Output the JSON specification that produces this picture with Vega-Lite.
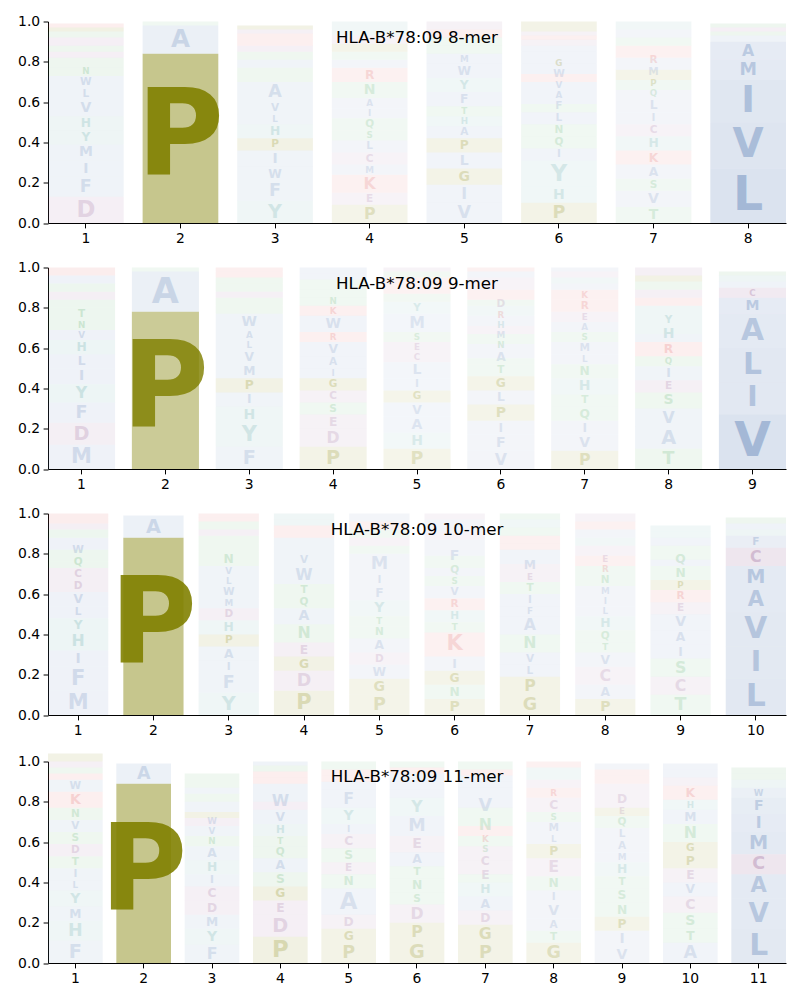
{
"$schema": "https://vega.github.io/schema/vega-lite/v6.json",
"padding": {"left": 17, "top": 14.5, "right": 15, "bottom": 5},
"spacing": 15,
"config": {
  "view": {"stroke": null},
  "font": "DejaVu Sans",
  "axis": {"domainColor": "#000", "tickColor": "#000", "labelColor": "#000", "labelFontSize": 13.9, "labelFont": "DejaVu Sans", "tickSize": 4.9, "labelPadding": 3.4, "grid": false, "title": null},
  "axisX": {"labelAngle": 0},
  "title": {"fontSize": 16.7, "fontWeight": "normal", "font": "DejaVu Sans", "color": "#000", "anchor": "middle", "frame": "group", "baseline": "top", "offset": -32}
},
"data": {"values": [
{"k":8,"p":1,"a":"D","f":0.13,"ic":0.8},{"k":8,"p":1,"a":"F","f":0.10,"ic":0.8},{"k":8,"p":1,"a":"I","f":0.08,"ic":0.8},{"k":8,"p":1,"a":"M","f":0.08,"ic":0.8},{"k":8,"p":1,"a":"Y","f":0.07,"ic":0.8},{"k":8,"p":1,"a":"H","f":0.07,"ic":0.8},{"k":8,"p":1,"a":"V","f":0.08,"ic":0.8},{"k":8,"p":1,"a":"L","f":0.06,"ic":0.8},{"k":8,"p":1,"a":"W","f":0.06,"ic":0.8},{"k":8,"p":1,"a":"T","f":0.04,"ic":0.8},{"k":8,"p":1,"a":"N","f":0.05,"ic":0.8},{"k":8,"p":1,"a":"E","f":0.03,"ic":0.8},{"k":8,"p":1,"a":"S","f":0.03,"ic":0.8},{"k":8,"p":1,"a":"C","f":0.04,"ic":0.8},{"k":8,"p":1,"a":"Q","f":0.03,"ic":0.8},{"k":8,"p":1,"a":"G","f":0.02,"ic":0.8},{"k":8,"p":1,"a":"K","f":0.02,"ic":0.8},
{"k":8,"p":2,"a":"P","f":0.84,"ic":3.3},{"k":8,"p":2,"a":"A","f":0.14,"ic":1.0},{"k":8,"p":2,"a":"S","f":0.02,"ic":0.7},
{"k":8,"p":3,"a":"Y","f":0.11,"ic":0.75},{"k":8,"p":3,"a":"F","f":0.10,"ic":0.75},{"k":8,"p":3,"a":"W","f":0.07,"ic":0.75},{"k":8,"p":3,"a":"I","f":0.08,"ic":0.75},{"k":8,"p":3,"a":"P","f":0.06,"ic":0.75},{"k":8,"p":3,"a":"H","f":0.07,"ic":0.75},{"k":8,"p":3,"a":"L","f":0.05,"ic":0.75},{"k":8,"p":3,"a":"V","f":0.06,"ic":0.75},{"k":8,"p":3,"a":"A","f":0.10,"ic":0.75},{"k":8,"p":3,"a":"T","f":0.03,"ic":0.75},{"k":8,"p":3,"a":"S","f":0.04,"ic":0.75},{"k":8,"p":3,"a":"M","f":0.04,"ic":0.75},{"k":8,"p":3,"a":"Q","f":0.04,"ic":0.75},{"k":8,"p":3,"a":"E","f":0.03,"ic":0.75},{"k":8,"p":3,"a":"K","f":0.03,"ic":0.75},{"k":8,"p":3,"a":"R","f":0.03,"ic":0.75},{"k":8,"p":3,"a":"C","f":0.02,"ic":0.75},{"k":8,"p":3,"a":"G","f":0.02,"ic":0.75},
{"k":8,"p":4,"a":"P","f":0.09,"ic":0.65},{"k":8,"p":4,"a":"E","f":0.06,"ic":0.65},{"k":8,"p":4,"a":"K","f":0.09,"ic":0.65},{"k":8,"p":4,"a":"M","f":0.05,"ic":0.65},{"k":8,"p":4,"a":"C","f":0.06,"ic":0.65},{"k":8,"p":4,"a":"L","f":0.06,"ic":0.65},{"k":8,"p":4,"a":"S","f":0.05,"ic":0.65},{"k":8,"p":4,"a":"Q","f":0.06,"ic":0.65},{"k":8,"p":4,"a":"I","f":0.05,"ic":0.65},{"k":8,"p":4,"a":"A","f":0.05,"ic":0.65},{"k":8,"p":4,"a":"N","f":0.08,"ic":0.65},{"k":8,"p":4,"a":"R","f":0.07,"ic":0.65},{"k":8,"p":4,"a":"W","f":0.04,"ic":0.65},{"k":8,"p":4,"a":"T","f":0.04,"ic":0.65},{"k":8,"p":4,"a":"G","f":0.04,"ic":0.65},{"k":8,"p":4,"a":"D","f":0.04,"ic":0.65},{"k":8,"p":4,"a":"Y","f":0.03,"ic":0.65},{"k":8,"p":4,"a":"H","f":0.04,"ic":0.65},
{"k":8,"p":5,"a":"V","f":0.10,"ic":0.7},{"k":8,"p":5,"a":"I","f":0.09,"ic":0.7},{"k":8,"p":5,"a":"G","f":0.08,"ic":0.7},{"k":8,"p":5,"a":"L","f":0.08,"ic":0.7},{"k":8,"p":5,"a":"P","f":0.07,"ic":0.7},{"k":8,"p":5,"a":"A","f":0.06,"ic":0.7},{"k":8,"p":5,"a":"H","f":0.05,"ic":0.7},{"k":8,"p":5,"a":"T","f":0.05,"ic":0.7},{"k":8,"p":5,"a":"F","f":0.07,"ic":0.7},{"k":8,"p":5,"a":"Y","f":0.07,"ic":0.7},{"k":8,"p":5,"a":"W","f":0.07,"ic":0.7},{"k":8,"p":5,"a":"M","f":0.05,"ic":0.7},{"k":8,"p":5,"a":"S","f":0.04,"ic":0.7},{"k":8,"p":5,"a":"Q","f":0.04,"ic":0.7},{"k":8,"p":5,"a":"K","f":0.04,"ic":0.7},{"k":8,"p":5,"a":"E","f":0.04,"ic":0.7},
{"k":8,"p":6,"a":"P","f":0.10,"ic":0.7},{"k":8,"p":6,"a":"H","f":0.08,"ic":0.7},{"k":8,"p":6,"a":"Y","f":0.13,"ic":0.7},{"k":8,"p":6,"a":"I","f":0.06,"ic":0.7},{"k":8,"p":6,"a":"Q","f":0.06,"ic":0.7},{"k":8,"p":6,"a":"N","f":0.06,"ic":0.7},{"k":8,"p":6,"a":"L","f":0.06,"ic":0.7},{"k":8,"p":6,"a":"S","f":0.04,"ic":0.7},{"k":8,"p":6,"a":"F","f":0.06,"ic":0.7},{"k":8,"p":6,"a":"A","f":0.05,"ic":0.7},{"k":8,"p":6,"a":"R","f":0.04,"ic":0.7},{"k":8,"p":6,"a":"V","f":0.05,"ic":0.7},{"k":8,"p":6,"a":"W","f":0.06,"ic":0.7},{"k":8,"p":6,"a":"M","f":0.03,"ic":0.7},{"k":8,"p":6,"a":"E","f":0.03,"ic":0.7},{"k":8,"p":6,"a":"K","f":0.02,"ic":0.7},{"k":8,"p":6,"a":"D","f":0.02,"ic":0.7},{"k":8,"p":6,"a":"G","f":0.05,"ic":0.7},
{"k":8,"p":7,"a":"T","f":0.08,"ic":0.65},{"k":8,"p":7,"a":"V","f":0.08,"ic":0.65},{"k":8,"p":7,"a":"S","f":0.06,"ic":0.65},{"k":8,"p":7,"a":"A","f":0.07,"ic":0.65},{"k":8,"p":7,"a":"K","f":0.07,"ic":0.65},{"k":8,"p":7,"a":"H","f":0.07,"ic":0.65},{"k":8,"p":7,"a":"C","f":0.06,"ic":0.65},{"k":8,"p":7,"a":"I","f":0.06,"ic":0.65},{"k":8,"p":7,"a":"L","f":0.07,"ic":0.65},{"k":8,"p":7,"a":"F","f":0.04,"ic":0.65},{"k":8,"p":7,"a":"Q","f":0.05,"ic":0.65},{"k":8,"p":7,"a":"P","f":0.05,"ic":0.65},{"k":8,"p":7,"a":"M","f":0.06,"ic":0.65},{"k":8,"p":7,"a":"R","f":0.06,"ic":0.65},{"k":8,"p":7,"a":"N","f":0.04,"ic":0.65},{"k":8,"p":7,"a":"W","f":0.04,"ic":0.65},{"k":8,"p":7,"a":"Y","f":0.04,"ic":0.65},
{"k":8,"p":8,"a":"L","f":0.27,"ic":1.85},{"k":8,"p":8,"a":"V","f":0.23,"ic":1.7},{"k":8,"p":8,"a":"I","f":0.21,"ic":1.6},{"k":8,"p":8,"a":"M","f":0.10,"ic":1.4},{"k":8,"p":8,"a":"A","f":0.09,"ic":1.3},{"k":8,"p":8,"a":"F","f":0.03,"ic":0.8},{"k":8,"p":8,"a":"T","f":0.02,"ic":0.8},{"k":8,"p":8,"a":"C","f":0.02,"ic":0.8},{"k":8,"p":8,"a":"S","f":0.02,"ic":0.8},

{"k":9,"p":1,"a":"M","f":0.12,"ic":0.85},{"k":9,"p":1,"a":"D","f":0.11,"ic":0.85},{"k":9,"p":1,"a":"F","f":0.10,"ic":0.85},{"k":9,"p":1,"a":"Y","f":0.09,"ic":0.85},{"k":9,"p":1,"a":"I","f":0.08,"ic":0.85},{"k":9,"p":1,"a":"L","f":0.07,"ic":0.85},{"k":9,"p":1,"a":"H","f":0.07,"ic":0.85},{"k":9,"p":1,"a":"V","f":0.05,"ic":0.85},{"k":9,"p":1,"a":"N","f":0.05,"ic":0.85},{"k":9,"p":1,"a":"T","f":0.06,"ic":0.85},{"k":9,"p":1,"a":"S","f":0.04,"ic":0.85},{"k":9,"p":1,"a":"E","f":0.04,"ic":0.85},{"k":9,"p":1,"a":"Q","f":0.04,"ic":0.85},{"k":9,"p":1,"a":"W","f":0.04,"ic":0.85},{"k":9,"p":1,"a":"K","f":0.04,"ic":0.85},
{"k":9,"p":2,"a":"P","f":0.78,"ic":3.0},{"k":9,"p":2,"a":"A","f":0.20,"ic":1.0},{"k":9,"p":2,"a":"S","f":0.02,"ic":0.7},
{"k":9,"p":3,"a":"F","f":0.11,"ic":0.75},{"k":9,"p":3,"a":"Y","f":0.12,"ic":0.75},{"k":9,"p":3,"a":"H","f":0.08,"ic":0.75},{"k":9,"p":3,"a":"I","f":0.07,"ic":0.75},{"k":9,"p":3,"a":"P","f":0.07,"ic":0.75},{"k":9,"p":3,"a":"M","f":0.07,"ic":0.75},{"k":9,"p":3,"a":"V","f":0.07,"ic":0.75},{"k":9,"p":3,"a":"L","f":0.05,"ic":0.75},{"k":9,"p":3,"a":"A","f":0.05,"ic":0.75},{"k":9,"p":3,"a":"W","f":0.08,"ic":0.75},{"k":9,"p":3,"a":"T","f":0.04,"ic":0.75},{"k":9,"p":3,"a":"S","f":0.04,"ic":0.75},{"k":9,"p":3,"a":"E","f":0.03,"ic":0.75},{"k":9,"p":3,"a":"Q","f":0.04,"ic":0.75},{"k":9,"p":3,"a":"N","f":0.03,"ic":0.75},{"k":9,"p":3,"a":"R","f":0.03,"ic":0.75},{"k":9,"p":3,"a":"K","f":0.02,"ic":0.75},
{"k":9,"p":4,"a":"P","f":0.11,"ic":0.7},{"k":9,"p":4,"a":"D","f":0.09,"ic":0.7},{"k":9,"p":4,"a":"E","f":0.07,"ic":0.7},{"k":9,"p":4,"a":"S","f":0.06,"ic":0.7},{"k":9,"p":4,"a":"C","f":0.06,"ic":0.7},{"k":9,"p":4,"a":"G","f":0.06,"ic":0.7},{"k":9,"p":4,"a":"I","f":0.05,"ic":0.7},{"k":9,"p":4,"a":"A","f":0.06,"ic":0.7},{"k":9,"p":4,"a":"V","f":0.07,"ic":0.7},{"k":9,"p":4,"a":"R","f":0.05,"ic":0.7},{"k":9,"p":4,"a":"W","f":0.08,"ic":0.7},{"k":9,"p":4,"a":"K","f":0.05,"ic":0.7},{"k":9,"p":4,"a":"T","f":0.04,"ic":0.7},{"k":9,"p":4,"a":"Q","f":0.04,"ic":0.7},{"k":9,"p":4,"a":"N","f":0.05,"ic":0.7},{"k":9,"p":4,"a":"L","f":0.03,"ic":0.7},{"k":9,"p":4,"a":"M","f":0.03,"ic":0.7},
{"k":9,"p":5,"a":"P","f":0.10,"ic":0.6},{"k":9,"p":5,"a":"H","f":0.08,"ic":0.6},{"k":9,"p":5,"a":"A","f":0.08,"ic":0.6},{"k":9,"p":5,"a":"V","f":0.07,"ic":0.6},{"k":9,"p":5,"a":"G","f":0.06,"ic":0.6},{"k":9,"p":5,"a":"I","f":0.06,"ic":0.6},{"k":9,"p":5,"a":"L","f":0.08,"ic":0.6},{"k":9,"p":5,"a":"C","f":0.05,"ic":0.6},{"k":9,"p":5,"a":"E","f":0.05,"ic":0.6},{"k":9,"p":5,"a":"S","f":0.05,"ic":0.6},{"k":9,"p":5,"a":"M","f":0.09,"ic":0.6},{"k":9,"p":5,"a":"Y","f":0.06,"ic":0.6},{"k":9,"p":5,"a":"T","f":0.04,"ic":0.6},{"k":9,"p":5,"a":"K","f":0.04,"ic":0.6},{"k":9,"p":5,"a":"R","f":0.04,"ic":0.6},{"k":9,"p":5,"a":"N","f":0.03,"ic":0.6},{"k":9,"p":5,"a":"D","f":0.02,"ic":0.6},
{"k":9,"p":6,"a":"V","f":0.09,"ic":0.65},{"k":9,"p":6,"a":"F","f":0.08,"ic":0.65},{"k":9,"p":6,"a":"I","f":0.07,"ic":0.65},{"k":9,"p":6,"a":"P","f":0.08,"ic":0.65},{"k":9,"p":6,"a":"L","f":0.07,"ic":0.65},{"k":9,"p":6,"a":"G","f":0.07,"ic":0.65},{"k":9,"p":6,"a":"T","f":0.06,"ic":0.65},{"k":9,"p":6,"a":"S","f":0.03,"ic":0.65},{"k":9,"p":6,"a":"A","f":0.07,"ic":0.65},{"k":9,"p":6,"a":"N","f":0.05,"ic":0.65},{"k":9,"p":6,"a":"E","f":0.04,"ic":0.65},{"k":9,"p":6,"a":"M","f":0.05,"ic":0.65},{"k":9,"p":6,"a":"H","f":0.05,"ic":0.65},{"k":9,"p":6,"a":"Q","f":0.03,"ic":0.65},{"k":9,"p":6,"a":"R","f":0.05,"ic":0.65},{"k":9,"p":6,"a":"D","f":0.06,"ic":0.65},{"k":9,"p":6,"a":"W","f":0.03,"ic":0.65},{"k":9,"p":6,"a":"K","f":0.02,"ic":0.65},
{"k":9,"p":7,"a":"P","f":0.09,"ic":0.65},{"k":9,"p":7,"a":"V","f":0.08,"ic":0.65},{"k":9,"p":7,"a":"I","f":0.07,"ic":0.65},{"k":9,"p":7,"a":"Q","f":0.07,"ic":0.65},{"k":9,"p":7,"a":"T","f":0.06,"ic":0.65},{"k":9,"p":7,"a":"H","f":0.08,"ic":0.65},{"k":9,"p":7,"a":"N","f":0.07,"ic":0.65},{"k":9,"p":7,"a":"L","f":0.05,"ic":0.65},{"k":9,"p":7,"a":"M","f":0.06,"ic":0.65},{"k":9,"p":7,"a":"S","f":0.05,"ic":0.65},{"k":9,"p":7,"a":"A","f":0.05,"ic":0.65},{"k":9,"p":7,"a":"E","f":0.05,"ic":0.65},{"k":9,"p":7,"a":"R","f":0.06,"ic":0.65},{"k":9,"p":7,"a":"K","f":0.05,"ic":0.65},{"k":9,"p":7,"a":"W","f":0.03,"ic":0.65},{"k":9,"p":7,"a":"Y","f":0.03,"ic":0.65},{"k":9,"p":7,"a":"D","f":0.03,"ic":0.65},{"k":9,"p":7,"a":"F","f":0.02,"ic":0.65},
{"k":9,"p":8,"a":"T","f":0.10,"ic":0.75},{"k":9,"p":8,"a":"A","f":0.11,"ic":0.75},{"k":9,"p":8,"a":"V","f":0.09,"ic":0.75},{"k":9,"p":8,"a":"S","f":0.08,"ic":0.75},{"k":9,"p":8,"a":"E","f":0.06,"ic":0.75},{"k":9,"p":8,"a":"I","f":0.07,"ic":0.75},{"k":9,"p":8,"a":"Q","f":0.05,"ic":0.75},{"k":9,"p":8,"a":"R","f":0.07,"ic":0.75},{"k":9,"p":8,"a":"F","f":0.04,"ic":0.75},{"k":9,"p":8,"a":"H","f":0.08,"ic":0.75},{"k":9,"p":8,"a":"Y","f":0.06,"ic":0.75},{"k":9,"p":8,"a":"K","f":0.04,"ic":0.75},{"k":9,"p":8,"a":"D","f":0.04,"ic":0.75},{"k":9,"p":8,"a":"N","f":0.04,"ic":0.75},{"k":9,"p":8,"a":"G","f":0.03,"ic":0.75},{"k":9,"p":8,"a":"C","f":0.04,"ic":0.75},
{"k":9,"p":9,"a":"V","f":0.27,"ic":1.85},{"k":9,"p":9,"a":"I","f":0.16,"ic":1.5},{"k":9,"p":9,"a":"L","f":0.17,"ic":1.5},{"k":9,"p":9,"a":"A","f":0.17,"ic":1.4},{"k":9,"p":9,"a":"M","f":0.08,"ic":1.3},{"k":9,"p":9,"a":"C","f":0.05,"ic":1.1},{"k":9,"p":9,"a":"F","f":0.03,"ic":0.8},{"k":9,"p":9,"a":"Y","f":0.03,"ic":0.8},{"k":9,"p":9,"a":"T","f":0.02,"ic":0.8},

{"k":10,"p":1,"a":"M","f":0.12,"ic":0.85},{"k":10,"p":1,"a":"F","f":0.12,"ic":0.85},{"k":10,"p":1,"a":"I","f":0.08,"ic":0.85},{"k":10,"p":1,"a":"H","f":0.09,"ic":0.85},{"k":10,"p":1,"a":"Y","f":0.07,"ic":0.85},{"k":10,"p":1,"a":"L","f":0.06,"ic":0.85},{"k":10,"p":1,"a":"V","f":0.07,"ic":0.85},{"k":10,"p":1,"a":"D","f":0.06,"ic":0.85},{"k":10,"p":1,"a":"C","f":0.06,"ic":0.85},{"k":10,"p":1,"a":"T","f":0.03,"ic":0.85},{"k":10,"p":1,"a":"Q","f":0.06,"ic":0.85},{"k":10,"p":1,"a":"W","f":0.06,"ic":0.85},{"k":10,"p":1,"a":"S","f":0.04,"ic":0.85},{"k":10,"p":1,"a":"E","f":0.03,"ic":0.85},{"k":10,"p":1,"a":"K","f":0.03,"ic":0.85},{"k":10,"p":1,"a":"R","f":0.02,"ic":0.85},
{"k":10,"p":2,"a":"P","f":0.88,"ic":3.3},{"k":10,"p":2,"a":"A","f":0.11,"ic":0.95},
{"k":10,"p":3,"a":"Y","f":0.11,"ic":0.75},{"k":10,"p":3,"a":"F","f":0.10,"ic":0.75},{"k":10,"p":3,"a":"I","f":0.06,"ic":0.75},{"k":10,"p":3,"a":"A","f":0.07,"ic":0.75},{"k":10,"p":3,"a":"P","f":0.06,"ic":0.75},{"k":10,"p":3,"a":"H","f":0.07,"ic":0.75},{"k":10,"p":3,"a":"D","f":0.06,"ic":0.75},{"k":10,"p":3,"a":"M","f":0.05,"ic":0.75},{"k":10,"p":3,"a":"W","f":0.06,"ic":0.75},{"k":10,"p":3,"a":"L","f":0.05,"ic":0.75},{"k":10,"p":3,"a":"V","f":0.05,"ic":0.75},{"k":10,"p":3,"a":"N","f":0.07,"ic":0.75},{"k":10,"p":3,"a":"S","f":0.04,"ic":0.75},{"k":10,"p":3,"a":"Q","f":0.04,"ic":0.75},{"k":10,"p":3,"a":"E","f":0.03,"ic":0.75},{"k":10,"p":3,"a":"T","f":0.04,"ic":0.75},{"k":10,"p":3,"a":"R","f":0.02,"ic":0.75},{"k":10,"p":3,"a":"K","f":0.02,"ic":0.75},
{"k":10,"p":4,"a":"P","f":0.12,"ic":0.75},{"k":10,"p":4,"a":"D","f":0.10,"ic":0.75},{"k":10,"p":4,"a":"G","f":0.07,"ic":0.75},{"k":10,"p":4,"a":"E","f":0.07,"ic":0.75},{"k":10,"p":4,"a":"N","f":0.09,"ic":0.75},{"k":10,"p":4,"a":"A","f":0.08,"ic":0.75},{"k":10,"p":4,"a":"Q","f":0.06,"ic":0.75},{"k":10,"p":4,"a":"T","f":0.06,"ic":0.75},{"k":10,"p":4,"a":"W","f":0.09,"ic":0.75},{"k":10,"p":4,"a":"V","f":0.06,"ic":0.75},{"k":10,"p":4,"a":"I","f":0.04,"ic":0.75},{"k":10,"p":4,"a":"L","f":0.04,"ic":0.75},{"k":10,"p":4,"a":"K","f":0.03,"ic":0.75},{"k":10,"p":4,"a":"R","f":0.03,"ic":0.75},{"k":10,"p":4,"a":"H","f":0.03,"ic":0.75},{"k":10,"p":4,"a":"Y","f":0.03,"ic":0.75},
{"k":10,"p":5,"a":"P","f":0.10,"ic":0.65},{"k":10,"p":5,"a":"G","f":0.08,"ic":0.65},{"k":10,"p":5,"a":"W","f":0.07,"ic":0.65},{"k":10,"p":5,"a":"D","f":0.06,"ic":0.65},{"k":10,"p":5,"a":"A","f":0.07,"ic":0.65},{"k":10,"p":5,"a":"N","f":0.06,"ic":0.65},{"k":10,"p":5,"a":"T","f":0.05,"ic":0.65},{"k":10,"p":5,"a":"Y","f":0.08,"ic":0.65},{"k":10,"p":5,"a":"F","f":0.07,"ic":0.65},{"k":10,"p":5,"a":"I","f":0.06,"ic":0.65},{"k":10,"p":5,"a":"M","f":0.10,"ic":0.65},{"k":10,"p":5,"a":"S","f":0.04,"ic":0.65},{"k":10,"p":5,"a":"E","f":0.04,"ic":0.65},{"k":10,"p":5,"a":"Q","f":0.04,"ic":0.65},{"k":10,"p":5,"a":"K","f":0.04,"ic":0.65},{"k":10,"p":5,"a":"L","f":0.04,"ic":0.65},
{"k":10,"p":6,"a":"P","f":0.08,"ic":0.65},{"k":10,"p":6,"a":"N","f":0.07,"ic":0.65},{"k":10,"p":6,"a":"G","f":0.07,"ic":0.65},{"k":10,"p":6,"a":"I","f":0.07,"ic":0.65},{"k":10,"p":6,"a":"K","f":0.12,"ic":0.65},{"k":10,"p":6,"a":"T","f":0.05,"ic":0.65},{"k":10,"p":6,"a":"H","f":0.06,"ic":0.65},{"k":10,"p":6,"a":"R","f":0.06,"ic":0.65},{"k":10,"p":6,"a":"V","f":0.06,"ic":0.65},{"k":10,"p":6,"a":"S","f":0.05,"ic":0.65},{"k":10,"p":6,"a":"A","f":0.04,"ic":0.65},{"k":10,"p":6,"a":"Q","f":0.06,"ic":0.65},{"k":10,"p":6,"a":"F","f":0.08,"ic":0.65},{"k":10,"p":6,"a":"E","f":0.04,"ic":0.65},{"k":10,"p":6,"a":"L","f":0.03,"ic":0.65},{"k":10,"p":6,"a":"M","f":0.03,"ic":0.65},{"k":10,"p":6,"a":"D","f":0.03,"ic":0.65},
{"k":10,"p":7,"a":"G","f":0.10,"ic":0.7},{"k":10,"p":7,"a":"P","f":0.09,"ic":0.7},{"k":10,"p":7,"a":"L","f":0.06,"ic":0.7},{"k":10,"p":7,"a":"V","f":0.06,"ic":0.7},{"k":10,"p":7,"a":"N","f":0.09,"ic":0.7},{"k":10,"p":7,"a":"A","f":0.09,"ic":0.7},{"k":10,"p":7,"a":"F","f":0.05,"ic":0.7},{"k":10,"p":7,"a":"I","f":0.06,"ic":0.7},{"k":10,"p":7,"a":"T","f":0.06,"ic":0.7},{"k":10,"p":7,"a":"E","f":0.05,"ic":0.7},{"k":10,"p":7,"a":"D","f":0.04,"ic":0.7},{"k":10,"p":7,"a":"M","f":0.07,"ic":0.7},{"k":10,"p":7,"a":"K","f":0.03,"ic":0.7},{"k":10,"p":7,"a":"R","f":0.04,"ic":0.7},{"k":10,"p":7,"a":"S","f":0.04,"ic":0.7},{"k":10,"p":7,"a":"Y","f":0.04,"ic":0.7},{"k":10,"p":7,"a":"Q","f":0.03,"ic":0.7},
{"k":10,"p":8,"a":"P","f":0.08,"ic":0.65},{"k":10,"p":8,"a":"A","f":0.07,"ic":0.65},{"k":10,"p":8,"a":"C","f":0.09,"ic":0.65},{"k":10,"p":8,"a":"V","f":0.07,"ic":0.65},{"k":10,"p":8,"a":"T","f":0.05,"ic":0.65},{"k":10,"p":8,"a":"Q","f":0.06,"ic":0.65},{"k":10,"p":8,"a":"H","f":0.07,"ic":0.65},{"k":10,"p":8,"a":"L","f":0.05,"ic":0.65},{"k":10,"p":8,"a":"I","f":0.05,"ic":0.65},{"k":10,"p":8,"a":"M","f":0.05,"ic":0.65},{"k":10,"p":8,"a":"S","f":0.04,"ic":0.65},{"k":10,"p":8,"a":"N","f":0.06,"ic":0.65},{"k":10,"p":8,"a":"R","f":0.05,"ic":0.65},{"k":10,"p":8,"a":"E","f":0.05,"ic":0.65},{"k":10,"p":8,"a":"Y","f":0.04,"ic":0.65},{"k":10,"p":8,"a":"W","f":0.04,"ic":0.65},{"k":10,"p":8,"a":"K","f":0.04,"ic":0.65},{"k":10,"p":8,"a":"D","f":0.04,"ic":0.65},
{"k":10,"p":9,"a":"T","f":0.10,"ic":0.7},{"k":10,"p":9,"a":"C","f":0.09,"ic":0.7},{"k":10,"p":9,"a":"S","f":0.09,"ic":0.7},{"k":10,"p":9,"a":"I","f":0.07,"ic":0.7},{"k":10,"p":9,"a":"A","f":0.07,"ic":0.7},{"k":10,"p":9,"a":"V","f":0.08,"ic":0.7},{"k":10,"p":9,"a":"E","f":0.06,"ic":0.7},{"k":10,"p":9,"a":"R","f":0.06,"ic":0.7},{"k":10,"p":9,"a":"P","f":0.05,"ic":0.7},{"k":10,"p":9,"a":"N","f":0.07,"ic":0.7},{"k":10,"p":9,"a":"L","f":0.03,"ic":0.7},{"k":10,"p":9,"a":"Q","f":0.07,"ic":0.7},{"k":10,"p":9,"a":"M","f":0.04,"ic":0.7},{"k":10,"p":9,"a":"Y","f":0.03,"ic":0.7},{"k":10,"p":9,"a":"H","f":0.03,"ic":0.7},
{"k":10,"p":10,"a":"L","f":0.18,"ic":1.5},{"k":10,"p":10,"a":"I","f":0.16,"ic":1.45},{"k":10,"p":10,"a":"V","f":0.17,"ic":1.45},{"k":10,"p":10,"a":"A","f":0.12,"ic":1.4},{"k":10,"p":10,"a":"M","f":0.11,"ic":1.4},{"k":10,"p":10,"a":"C","f":0.09,"ic":1.3},{"k":10,"p":10,"a":"F","f":0.06,"ic":1.1},{"k":10,"p":10,"a":"Y","f":0.03,"ic":0.8},{"k":10,"p":10,"a":"W","f":0.03,"ic":0.8},{"k":10,"p":10,"a":"T","f":0.03,"ic":0.8},

{"k":11,"p":1,"a":"F","f":0.11,"ic":0.75},{"k":11,"p":1,"a":"H","f":0.10,"ic":0.75},{"k":11,"p":1,"a":"M","f":0.07,"ic":0.75},{"k":11,"p":1,"a":"Y","f":0.08,"ic":0.75},{"k":11,"p":1,"a":"L","f":0.05,"ic":0.75},{"k":11,"p":1,"a":"I","f":0.06,"ic":0.75},{"k":11,"p":1,"a":"T","f":0.06,"ic":0.75},{"k":11,"p":1,"a":"D","f":0.06,"ic":0.75},{"k":11,"p":1,"a":"S","f":0.06,"ic":0.75},{"k":11,"p":1,"a":"V","f":0.06,"ic":0.75},{"k":11,"p":1,"a":"N","f":0.06,"ic":0.75},{"k":11,"p":1,"a":"K","f":0.08,"ic":0.75},{"k":11,"p":1,"a":"W","f":0.06,"ic":0.75},{"k":11,"p":1,"a":"R","f":0.03,"ic":0.75},{"k":11,"p":1,"a":"Q","f":0.03,"ic":0.75},{"k":11,"p":1,"a":"C","f":0.03,"ic":0.75},{"k":11,"p":1,"a":"G","f":0.04,"ic":0.75},
{"k":11,"p":2,"a":"P","f":0.89,"ic":3.3},{"k":11,"p":2,"a":"A","f":0.10,"ic":0.95},
{"k":11,"p":3,"a":"F","f":0.09,"ic":0.75},{"k":11,"p":3,"a":"Y","f":0.08,"ic":0.75},{"k":11,"p":3,"a":"M","f":0.07,"ic":0.75},{"k":11,"p":3,"a":"D","f":0.07,"ic":0.75},{"k":11,"p":3,"a":"C","f":0.07,"ic":0.75},{"k":11,"p":3,"a":"I","f":0.06,"ic":0.75},{"k":11,"p":3,"a":"H","f":0.07,"ic":0.75},{"k":11,"p":3,"a":"A","f":0.07,"ic":0.75},{"k":11,"p":3,"a":"N","f":0.05,"ic":0.75},{"k":11,"p":3,"a":"V","f":0.05,"ic":0.75},{"k":11,"p":3,"a":"E","f":0.04,"ic":0.75},{"k":11,"p":3,"a":"P","f":0.03,"ic":0.75},{"k":11,"p":3,"a":"W","f":0.05,"ic":0.75},{"k":11,"p":3,"a":"S","f":0.04,"ic":0.75},{"k":11,"p":3,"a":"L","f":0.03,"ic":0.75},{"k":11,"p":3,"a":"Q","f":0.04,"ic":0.75},{"k":11,"p":3,"a":"T","f":0.03,"ic":0.75},
{"k":11,"p":4,"a":"P","f":0.13,"ic":0.8},{"k":11,"p":4,"a":"D","f":0.11,"ic":0.8},{"k":11,"p":4,"a":"E","f":0.07,"ic":0.8},{"k":11,"p":4,"a":"G","f":0.07,"ic":0.8},{"k":11,"p":4,"a":"S","f":0.07,"ic":0.8},{"k":11,"p":4,"a":"A","f":0.07,"ic":0.8},{"k":11,"p":4,"a":"Q","f":0.06,"ic":0.8},{"k":11,"p":4,"a":"T","f":0.05,"ic":0.8},{"k":11,"p":4,"a":"H","f":0.06,"ic":0.8},{"k":11,"p":4,"a":"V","f":0.07,"ic":0.8},{"k":11,"p":4,"a":"C","f":0.04,"ic":0.8},{"k":11,"p":4,"a":"W","f":0.09,"ic":0.8},{"k":11,"p":4,"a":"K","f":0.03,"ic":0.8},{"k":11,"p":4,"a":"R","f":0.03,"ic":0.8},{"k":11,"p":4,"a":"N","f":0.03,"ic":0.8},{"k":11,"p":4,"a":"F","f":0.02,"ic":0.8},
{"k":11,"p":5,"a":"P","f":0.10,"ic":0.7},{"k":11,"p":5,"a":"G","f":0.07,"ic":0.7},{"k":11,"p":5,"a":"D","f":0.07,"ic":0.7},{"k":11,"p":5,"a":"A","f":0.13,"ic":0.7},{"k":11,"p":5,"a":"N","f":0.07,"ic":0.7},{"k":11,"p":5,"a":"E","f":0.06,"ic":0.7},{"k":11,"p":5,"a":"S","f":0.07,"ic":0.7},{"k":11,"p":5,"a":"C","f":0.07,"ic":0.7},{"k":11,"p":5,"a":"I","f":0.05,"ic":0.7},{"k":11,"p":5,"a":"Y","f":0.08,"ic":0.7},{"k":11,"p":5,"a":"F","f":0.09,"ic":0.7},{"k":11,"p":5,"a":"V","f":0.04,"ic":0.7},{"k":11,"p":5,"a":"K","f":0.03,"ic":0.7},{"k":11,"p":5,"a":"R","f":0.03,"ic":0.7},{"k":11,"p":5,"a":"Q","f":0.04,"ic":0.7},
{"k":11,"p":6,"a":"G","f":0.11,"ic":0.7},{"k":11,"p":6,"a":"P","f":0.09,"ic":0.7},{"k":11,"p":6,"a":"D","f":0.09,"ic":0.7},{"k":11,"p":6,"a":"S","f":0.06,"ic":0.7},{"k":11,"p":6,"a":"N","f":0.07,"ic":0.7},{"k":11,"p":6,"a":"T","f":0.06,"ic":0.7},{"k":11,"p":6,"a":"A","f":0.07,"ic":0.7},{"k":11,"p":6,"a":"E","f":0.08,"ic":0.7},{"k":11,"p":6,"a":"M","f":0.10,"ic":0.7},{"k":11,"p":6,"a":"Y","f":0.09,"ic":0.7},{"k":11,"p":6,"a":"V","f":0.04,"ic":0.7},{"k":11,"p":6,"a":"I","f":0.04,"ic":0.7},{"k":11,"p":6,"a":"L","f":0.04,"ic":0.7},{"k":11,"p":6,"a":"R","f":0.03,"ic":0.7},{"k":11,"p":6,"a":"Q","f":0.03,"ic":0.7},
{"k":11,"p":7,"a":"P","f":0.10,"ic":0.7},{"k":11,"p":7,"a":"G","f":0.09,"ic":0.7},{"k":11,"p":7,"a":"D","f":0.07,"ic":0.7},{"k":11,"p":7,"a":"A","f":0.07,"ic":0.7},{"k":11,"p":7,"a":"H","f":0.07,"ic":0.7},{"k":11,"p":7,"a":"T","f":0.04,"ic":0.7},{"k":11,"p":7,"a":"E","f":0.07,"ic":0.7},{"k":11,"p":7,"a":"C","f":0.07,"ic":0.7},{"k":11,"p":7,"a":"S","f":0.05,"ic":0.7},{"k":11,"p":7,"a":"K","f":0.05,"ic":0.7},{"k":11,"p":7,"a":"N","f":0.09,"ic":0.7},{"k":11,"p":7,"a":"V","f":0.10,"ic":0.7},{"k":11,"p":7,"a":"I","f":0.03,"ic":0.7},{"k":11,"p":7,"a":"L","f":0.03,"ic":0.7},{"k":11,"p":7,"a":"R","f":0.03,"ic":0.7},{"k":11,"p":7,"a":"Q","f":0.04,"ic":0.7},
{"k":11,"p":8,"a":"G","f":0.10,"ic":0.65},{"k":11,"p":8,"a":"T","f":0.06,"ic":0.65},{"k":11,"p":8,"a":"A","f":0.06,"ic":0.65},{"k":11,"p":8,"a":"V","f":0.08,"ic":0.65},{"k":11,"p":8,"a":"I","f":0.06,"ic":0.65},{"k":11,"p":8,"a":"N","f":0.07,"ic":0.65},{"k":11,"p":8,"a":"E","f":0.09,"ic":0.65},{"k":11,"p":8,"a":"P","f":0.07,"ic":0.65},{"k":11,"p":8,"a":"L","f":0.05,"ic":0.65},{"k":11,"p":8,"a":"M","f":0.06,"ic":0.65},{"k":11,"p":8,"a":"S","f":0.05,"ic":0.65},{"k":11,"p":8,"a":"C","f":0.07,"ic":0.65},{"k":11,"p":8,"a":"R","f":0.05,"ic":0.65},{"k":11,"p":8,"a":"D","f":0.04,"ic":0.65},{"k":11,"p":8,"a":"H","f":0.03,"ic":0.65},{"k":11,"p":8,"a":"Y","f":0.03,"ic":0.65},{"k":11,"p":8,"a":"K","f":0.03,"ic":0.65},
{"k":11,"p":9,"a":"V","f":0.08,"ic":0.65},{"k":11,"p":9,"a":"I","f":0.08,"ic":0.65},{"k":11,"p":9,"a":"P","f":0.07,"ic":0.65},{"k":11,"p":9,"a":"N","f":0.07,"ic":0.65},{"k":11,"p":9,"a":"S","f":0.07,"ic":0.65},{"k":11,"p":9,"a":"T","f":0.06,"ic":0.65},{"k":11,"p":9,"a":"H","f":0.07,"ic":0.65},{"k":11,"p":9,"a":"M","f":0.05,"ic":0.65},{"k":11,"p":9,"a":"A","f":0.06,"ic":0.65},{"k":11,"p":9,"a":"L","f":0.06,"ic":0.65},{"k":11,"p":9,"a":"Q","f":0.06,"ic":0.65},{"k":11,"p":9,"a":"G","f":0.04,"ic":0.65},{"k":11,"p":9,"a":"E","f":0.05,"ic":0.65},{"k":11,"p":9,"a":"D","f":0.07,"ic":0.65},{"k":11,"p":9,"a":"R","f":0.04,"ic":0.65},{"k":11,"p":9,"a":"K","f":0.03,"ic":0.65},{"k":11,"p":9,"a":"F","f":0.03,"ic":0.65},
{"k":11,"p":10,"a":"A","f":0.10,"ic":0.7},{"k":11,"p":10,"a":"T","f":0.07,"ic":0.7},{"k":11,"p":10,"a":"S","f":0.08,"ic":0.7},{"k":11,"p":10,"a":"C","f":0.08,"ic":0.7},{"k":11,"p":10,"a":"V","f":0.07,"ic":0.7},{"k":11,"p":10,"a":"E","f":0.07,"ic":0.7},{"k":11,"p":10,"a":"P","f":0.07,"ic":0.7},{"k":11,"p":10,"a":"G","f":0.06,"ic":0.7},{"k":11,"p":10,"a":"N","f":0.09,"ic":0.7},{"k":11,"p":10,"a":"M","f":0.07,"ic":0.7},{"k":11,"p":10,"a":"H","f":0.05,"ic":0.7},{"k":11,"p":10,"a":"K","f":0.07,"ic":0.7},{"k":11,"p":10,"a":"D","f":0.04,"ic":0.7},{"k":11,"p":10,"a":"L","f":0.04,"ic":0.7},{"k":11,"p":10,"a":"I","f":0.03,"ic":0.7},
{"k":11,"p":11,"a":"L","f":0.17,"ic":1.45},{"k":11,"p":11,"a":"V","f":0.15,"ic":1.4},{"k":11,"p":11,"a":"A","f":0.12,"ic":1.35},{"k":11,"p":11,"a":"C","f":0.10,"ic":1.3},{"k":11,"p":11,"a":"M","f":0.11,"ic":1.35},{"k":11,"p":11,"a":"I","f":0.09,"ic":1.3},{"k":11,"p":11,"a":"F","f":0.08,"ic":1.2},{"k":11,"p":11,"a":"W","f":0.05,"ic":1.0},{"k":11,"p":11,"a":"Y","f":0.04,"ic":0.8},{"k":11,"p":11,"a":"T","f":0.03,"ic":0.8},{"k":11,"p":11,"a":"S","f":0.03,"ic":0.8}
]},
"vconcat": [
 {
  "width": 738, "height": 201.5,
  "title": {"text": "HLA-B*78:09 8-mer"},
  "transform": [{"filter": "datum.k == 8"}, {"window": [{"op": "row_number", "as": "r"}], "groupby": ["p"]}],
  "encoding": {
    "x": {"field": "p", "type": "ordinal", "scale": {"paddingInner": 0.2, "paddingOuter": 0}, "axis": {"labelAngle": 0}},
    "y": {"field": "f", "type": "quantitative", "stack": "zero", "scale": {"domain": [0, 1], "nice": false}, "axis": {"values": [0, 0.2, 0.4, 0.6, 0.8, 1], "format": ".1f"}},
    "color": {"field": "a", "type": "nominal", "legend": null, "scale": {"domain": ["A","V","L","I","M","F","W","P","G","D","E","C","K","R","S","T","N","Q","H","Y"], "range": ["#6F8FBF","#6F8FBF","#6F8FBF","#6F8FBF","#6F8FBF","#6F8FBF","#6F8FBF","#808000","#808000","#A070A0","#A070A0","#A070A0","#E06060","#E06060","#60B070","#60B070","#60B070","#60B070","#60A8A8","#60A8A8"]}},
    "opacity": {"field": "ic", "type": "quantitative", "legend": null, "scale": {"domain": [0, 3.5], "range": [0, 0.95]}},
    "order": {"field": "r", "type": "quantitative"}
  },
  "layer": [
    {"mark": {"type": "bar", "fillOpacity": 0.5}},
    {"transform": [{"filter": "datum.f >= 0.05"}],
     "mark": {"type": "text", "fontWeight": "bold", "baseline": "middle", "font": "DejaVu Sans"},
     "encoding": {"y": {"field": "f", "type": "quantitative", "stack": "zero", "bandPosition": 0.5}, "text": {"field": "a"}, "size": {"field": "f", "type": "quantitative", "legend": null, "scale": {"domain": [0, 0.68], "range": [0, 119], "clamp": true}}}}
  ]
 },
 {
  "width": 738, "height": 201.5,
  "title": {"text": "HLA-B*78:09 9-mer"},
  "transform": [{"filter": "datum.k == 9"}, {"window": [{"op": "row_number", "as": "r"}], "groupby": ["p"]}],
  "encoding": {
    "x": {"field": "p", "type": "ordinal", "scale": {"paddingInner": 0.2, "paddingOuter": 0}, "axis": {"labelAngle": 0}},
    "y": {"field": "f", "type": "quantitative", "stack": "zero", "scale": {"domain": [0, 1], "nice": false}, "axis": {"values": [0, 0.2, 0.4, 0.6, 0.8, 1], "format": ".1f"}},
    "color": {"field": "a", "type": "nominal", "legend": null, "scale": {"domain": ["A","V","L","I","M","F","W","P","G","D","E","C","K","R","S","T","N","Q","H","Y"], "range": ["#6F8FBF","#6F8FBF","#6F8FBF","#6F8FBF","#6F8FBF","#6F8FBF","#6F8FBF","#808000","#808000","#A070A0","#A070A0","#A070A0","#E06060","#E06060","#60B070","#60B070","#60B070","#60B070","#60A8A8","#60A8A8"]}},
    "opacity": {"field": "ic", "type": "quantitative", "legend": null, "scale": {"domain": [0, 3.5], "range": [0, 0.95]}},
    "order": {"field": "r", "type": "quantitative"}
  },
  "layer": [
    {"mark": {"type": "bar", "fillOpacity": 0.5}},
    {"transform": [{"filter": "datum.f >= 0.05"}],
     "mark": {"type": "text", "fontWeight": "bold", "baseline": "middle", "font": "DejaVu Sans"},
     "encoding": {"y": {"field": "f", "type": "quantitative", "stack": "zero", "bandPosition": 0.5}, "text": {"field": "a"}, "size": {"field": "f", "type": "quantitative", "legend": null, "scale": {"domain": [0, 0.68], "range": [0, 119], "clamp": true}}}}
  ]
 },
 {
  "width": 738, "height": 201.5,
  "title": {"text": "HLA-B*78:09 10-mer"},
  "transform": [{"filter": "datum.k == 10"}, {"window": [{"op": "row_number", "as": "r"}], "groupby": ["p"]}],
  "encoding": {
    "x": {"field": "p", "type": "ordinal", "scale": {"paddingInner": 0.2, "paddingOuter": 0}, "axis": {"labelAngle": 0}},
    "y": {"field": "f", "type": "quantitative", "stack": "zero", "scale": {"domain": [0, 1], "nice": false}, "axis": {"values": [0, 0.2, 0.4, 0.6, 0.8, 1], "format": ".1f"}},
    "color": {"field": "a", "type": "nominal", "legend": null, "scale": {"domain": ["A","V","L","I","M","F","W","P","G","D","E","C","K","R","S","T","N","Q","H","Y"], "range": ["#6F8FBF","#6F8FBF","#6F8FBF","#6F8FBF","#6F8FBF","#6F8FBF","#6F8FBF","#808000","#808000","#A070A0","#A070A0","#A070A0","#E06060","#E06060","#60B070","#60B070","#60B070","#60B070","#60A8A8","#60A8A8"]}},
    "opacity": {"field": "ic", "type": "quantitative", "legend": null, "scale": {"domain": [0, 3.5], "range": [0, 0.95]}},
    "order": {"field": "r", "type": "quantitative"}
  },
  "layer": [
    {"mark": {"type": "bar", "fillOpacity": 0.5}},
    {"transform": [{"filter": "datum.f >= 0.05"}],
     "mark": {"type": "text", "fontWeight": "bold", "baseline": "middle", "font": "DejaVu Sans"},
     "encoding": {"y": {"field": "f", "type": "quantitative", "stack": "zero", "bandPosition": 0.5}, "text": {"field": "a"}, "size": {"field": "f", "type": "quantitative", "legend": null, "scale": {"domain": [0, 0.68], "range": [0, 119], "clamp": true}}}}
  ]
 },
 {
  "width": 738, "height": 201.5,
  "title": {"text": "HLA-B*78:09 11-mer"},
  "transform": [{"filter": "datum.k == 11"}, {"window": [{"op": "row_number", "as": "r"}], "groupby": ["p"]}],
  "encoding": {
    "x": {"field": "p", "type": "ordinal", "scale": {"paddingInner": 0.2, "paddingOuter": 0}, "axis": {"labelAngle": 0}},
    "y": {"field": "f", "type": "quantitative", "stack": "zero", "scale": {"domain": [0, 1], "nice": false}, "axis": {"values": [0, 0.2, 0.4, 0.6, 0.8, 1], "format": ".1f"}},
    "color": {"field": "a", "type": "nominal", "legend": null, "scale": {"domain": ["A","V","L","I","M","F","W","P","G","D","E","C","K","R","S","T","N","Q","H","Y"], "range": ["#6F8FBF","#6F8FBF","#6F8FBF","#6F8FBF","#6F8FBF","#6F8FBF","#6F8FBF","#808000","#808000","#A070A0","#A070A0","#A070A0","#E06060","#E06060","#60B070","#60B070","#60B070","#60B070","#60A8A8","#60A8A8"]}},
    "opacity": {"field": "ic", "type": "quantitative", "legend": null, "scale": {"domain": [0, 3.5], "range": [0, 0.95]}},
    "order": {"field": "r", "type": "quantitative"}
  },
  "layer": [
    {"mark": {"type": "bar", "fillOpacity": 0.5}},
    {"transform": [{"filter": "datum.f >= 0.05"}],
     "mark": {"type": "text", "fontWeight": "bold", "baseline": "middle", "font": "DejaVu Sans"},
     "encoding": {"y": {"field": "f", "type": "quantitative", "stack": "zero", "bandPosition": 0.5}, "text": {"field": "a"}, "size": {"field": "f", "type": "quantitative", "legend": null, "scale": {"domain": [0, 0.68], "range": [0, 119], "clamp": true}}}}
  ]
 }
]
}
